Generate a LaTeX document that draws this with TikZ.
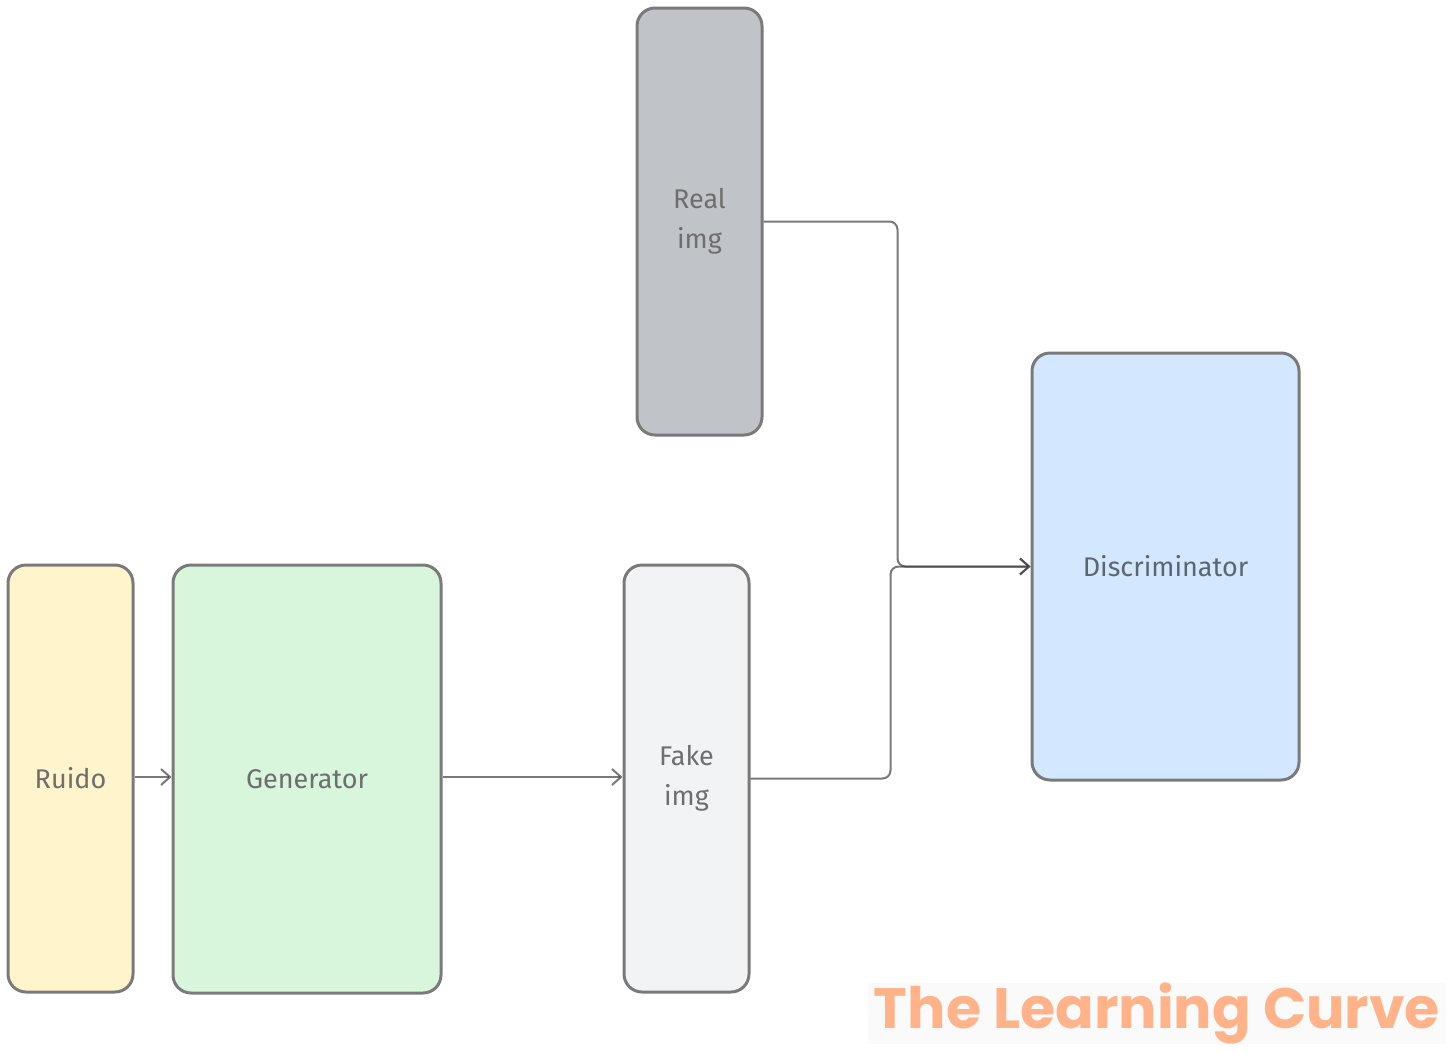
\documentclass[tikz,border=0pt]{standalone}
\usepackage{fontspec}
\setmainfont{Fira Sans}
\newfontfamily\wmfont{Poppins}
\usetikzlibrary{arrows.meta}
\definecolor{strokegray}{HTML}{7A7A7A}
\definecolor{conncol}{HTML}{3A3A3A}
\definecolor{textgray}{HTML}{6E6E6E}
\definecolor{disctext}{HTML}{5C6670}
\definecolor{ruidofill}{HTML}{FFF4CC}
\definecolor{genfill}{HTML}{D7F6DC}
\definecolor{fakefill}{HTML}{F2F3F5}
\definecolor{realfill}{HTML}{C0C4C9}
\definecolor{discfill}{HTML}{D3E8FE}
\definecolor{wmorange}{HTML}{FFB38A}
\definecolor{wmbg}{HTML}{FAFAFA}
\tikzset{
  box/.style={draw=strokegray, line width=3pt, rounded corners=18pt, inner sep=0pt,
    text=textgray, align=center, font=\fontsize{27}{40}\selectfont},
  conn/.style={draw=conncol, draw opacity=0.68, line width=2pt, rounded corners=8pt,
    -{Straight Barb[length=9pt,width=16pt,line width=2pt]}},
}
\begin{document}
\begin{tikzpicture}[x=1pt,y=-1pt]
\useasboundingbox (0,0) rectangle (1456,1052);
\node[box, fill=ruidofill, minimum width=125pt, minimum height=427pt] (ruido) at (70.5,778.5) {Ruido};
\node[box, fill=genfill, minimum width=268pt, minimum height=428pt] (gen) at (307,779) {Generator};
\node[box, fill=fakefill, minimum width=125pt, minimum height=427pt] (fake) at (686.5,778.5) {Fake\\img};
\node[box, fill=realfill, minimum width=125pt, minimum height=427pt] (real) at (699.5,221.5) {Real\\img};
\node[box, fill=discfill, text=disctext, minimum width=267pt, minimum height=427pt] (disc) at (1165.5,566.5) {Discriminator};
\draw[conn] (ruido.east |- 0,777) -- (gen.west |- 0,777);
\draw[conn] (gen.east |- 0,777) -- (fake.west |- 0,777);
\draw[conn] (real.east) -- ++(134,0) |- (disc.west);
\draw[conn] (fake.east) -- ++(140,0) |- (disc.west);
\node[fill=wmbg, text=wmorange, inner sep=0pt, minimum width=578pt, minimum height=57pt,
  font=\wmfont\bfseries\fontsize{57}{60}\selectfont] (wm) at (1157,1013.5) {The Learning Curve};
\end{tikzpicture}
\end{document}
